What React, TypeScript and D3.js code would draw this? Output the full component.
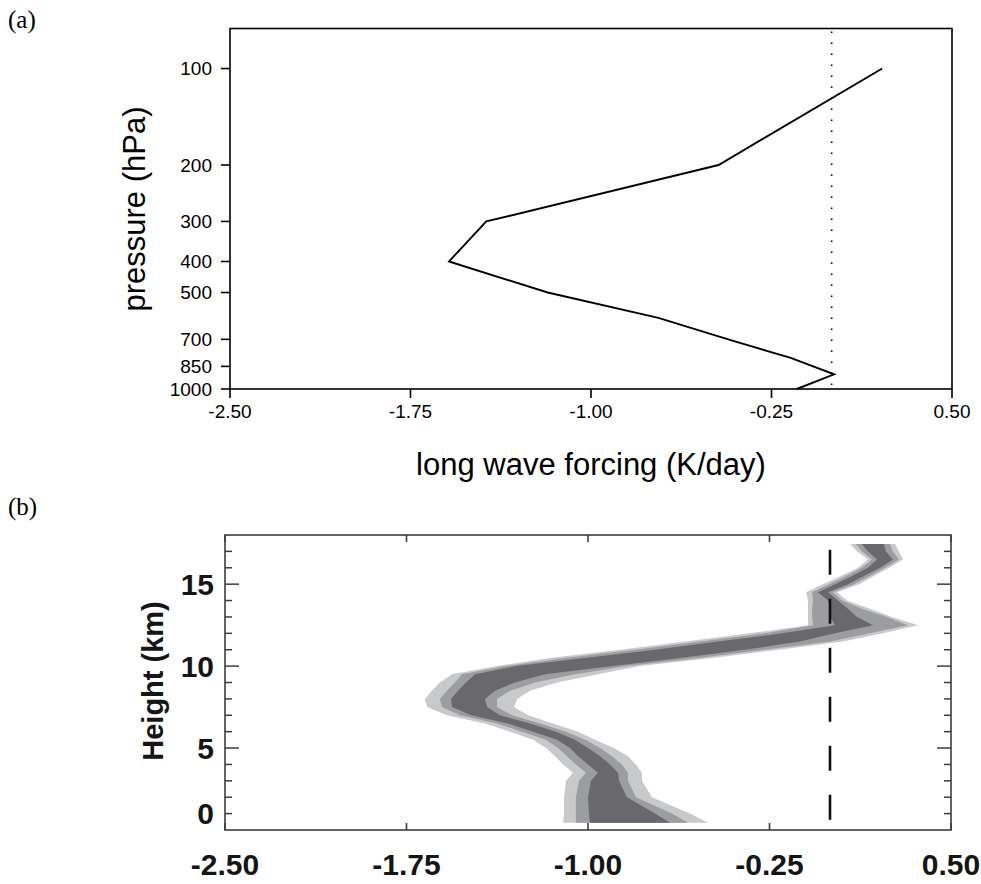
import React from "react";
import * as d3 from "d3";

// ---------- Panel (a) data ----------
const pressureLevels = [100, 200, 300, 400, 500, 600, 700, 800, 900, 1000];
const lwForcing = [0.21, -0.47, -1.435, -1.59, -1.18, -0.72, -0.43, -0.17, 0.01, -0.145];
const pressureTicks = [100, 200, 300, 400, 500, 700, 850, 1000];
const forcingTicks = [-2.5, -1.75, -1.0, -0.25, 0.5];
const forcingTickLabels = ["-2.50", "-1.75", "-1.00", "-0.25", "0.50"];

// ---------- Panel (b) data ----------
const heights = [0.45, 1, 2, 3, 3.5, 4, 4.5, 5, 5.5, 6, 6.5, 7, 7.5, 8, 8.5, 9, 9.5, 10, 10.5, 11, 11.5, 12, 12.5, 13, 13.5, 14, 14.5, 15, 15.5, 16, 16.5, 17, 17.45];
const lightLo = [-1.103, -1.099, -1.099, -1.091, -1.062, -1.103, -1.136, -1.174, -1.227, -1.322, -1.426, -1.583, -1.665, -1.674, -1.645, -1.612, -1.562, -1.376, -1.157, -0.868, -0.599, -0.331, -0.091, -0.091, -0.091, -0.091, -0.099, -0.029, 0.045, 0.116, 0.157, 0.112, 0.083];
const medLo = [-1.05, -1.05, -1.05, -1.037, -1.008, -1.05, -1.087, -1.124, -1.174, -1.273, -1.376, -1.529, -1.603, -1.612, -1.583, -1.55, -1.521, -1.339, -1.095, -0.806, -0.537, -0.269, -0.07, -0.074, -0.074, -0.07, -0.074, -0.004, 0.066, 0.132, 0.174, 0.132, 0.107];
const darkLo = [-0.992, -0.996, -1.0, -0.988, -0.959, -1.0, -1.041, -1.074, -1.128, -1.227, -1.331, -1.483, -1.562, -1.566, -1.537, -1.504, -1.467, -1.298, -1.012, -0.723, -0.463, -0.198, 0.021, 0.0, 0.0, -0.008, -0.05, 0.021, 0.091, 0.157, 0.194, 0.157, 0.132];
const darkHi = [-0.661, -0.723, -0.839, -0.872, -0.876, -0.909, -0.95, -1.0, -1.054, -1.132, -1.24, -1.364, -1.417, -1.426, -1.384, -1.302, -1.178, -0.897, -0.62, -0.351, -0.124, 0.021, 0.178, 0.112, 0.074, 0.033, -0.008, 0.074, 0.14, 0.207, 0.26, 0.231, 0.223];
const medHi = [-0.587, -0.653, -0.802, -0.835, -0.835, -0.86, -0.901, -0.95, -1.012, -1.091, -1.198, -1.314, -1.376, -1.376, -1.322, -1.219, -1.054, -0.839, -0.545, -0.269, 0.0, 0.165, 0.322, 0.236, 0.132, 0.05, 0.012, 0.099, 0.165, 0.227, 0.285, 0.26, 0.248];
const lightHi = [-0.504, -0.579, -0.736, -0.777, -0.777, -0.802, -0.835, -0.893, -0.971, -1.041, -1.145, -1.248, -1.306, -1.293, -1.24, -1.128, -0.959, -0.785, -0.488, -0.211, 0.054, 0.219, 0.364, 0.256, 0.165, 0.07, 0.029, 0.12, 0.182, 0.244, 0.302, 0.285, 0.269];
const heightLabelValues = [0, 5, 10, 15];
const heightLabels = ["0", "5", "10", "15"];
const heightMajor = [5, 10, 15];
const heightMinor = d3.range(1, 18).filter((h) => h % 5 !== 0);
const refLineRange = [0.4, 17.1];

const W = 981;
const H = 884;

export default function App() {
  // Panel (a)
  const xa = d3.scaleLinear().domain([-2.5, 0.5]).range([230, 952]);
  const ya = d3.scaleLog().domain([75, 1000]).range([28.5, 389]);
  const lineA = d3
    .line<number>()
    .x((_, i) => xa(lwForcing[i]))
    .y((p) => ya(p));
  const aTop = ya(75);
  const aBot = ya(1000);

  // Panel (b)
  const xb = d3.scaleLinear().domain([-2.5, 0.5]).range([225, 951]);
  const yb = d3.scaleLinear().domain([0, 18]).range([830, 535]);
  const idx = heights.map((_, i) => i);
  const band = (lo: number[], hi: number[]) =>
    d3
      .area<number>()
      .y((i) => yb(heights[i]))
      .x0((i) => xb(lo[i]))
      .x1((i) => xb(hi[i]))(idx) || "";

  const fontA = "'Liberation Sans', Arial, sans-serif";
  const fontB = "'Liberation Sans Narrow', 'Arial Narrow', 'Liberation Sans', sans-serif";
  const frameB = "#3d3d3d";
  const bL = xb(-2.5);
  const bR = xb(0.5);
  const bT = yb(18);
  const bB = yb(0);

  return (
    <div style={{ position: "absolute", left: 0, top: 0 }}>
      <svg width={W} height={H} viewBox={`0 0 ${W} ${H}`} style={{ display: "block", background: "#fff" }}>
        {/* ===== Panel (a) ===== */}
        <text x={8} y={28} fontFamily="'Liberation Serif', 'Times New Roman', serif" fontSize={25}>
          (a)
        </text>
        <rect x={xa(-2.5)} y={aTop} width={xa(0.5) - xa(-2.5)} height={aBot - aTop} fill="none" stroke="#000" strokeWidth={1.6} />
        {/* dotted zero line */}
        <line x1={xa(0)} x2={xa(0)} y1={aTop + 3} y2={aBot} stroke="#000" strokeWidth={1.6} strokeDasharray="1.6 9.4" />
        {/* profile */}
        <path d={lineA(pressureLevels) || ""} fill="none" stroke="#000" strokeWidth={1.9} strokeLinejoin="miter" />
        {/* y ticks */}
        {pressureTicks.map((p) => (
          <g key={`pa${p}`}>
            <line x1={xa(-2.5) - 9} x2={xa(-2.5)} y1={ya(p)} y2={ya(p)} stroke="#000" strokeWidth={1.6} />
            <text x={xa(-2.5) - 18} y={ya(p)} dy="0.36em" textAnchor="end" fontFamily={fontA} fontSize={19}>
              {p}
            </text>
          </g>
        ))}
        {/* x ticks */}
        {forcingTicks.map((v, i) => (
          <g key={`xa${i}`}>
            <line x1={xa(v)} x2={xa(v)} y1={aBot} y2={aBot + 9} stroke="#000" strokeWidth={1.6} />
            <text x={xa(v)} y={aBot + 29} textAnchor="middle" fontFamily={fontA} fontSize={19}>
              {forcingTickLabels[i]}
            </text>
          </g>
        ))}
        <text x={591} y={475} textAnchor="middle" fontFamily={fontA} fontSize={31}>
          long wave forcing (K/day)
        </text>
        <text transform="translate(145,209) rotate(-90)" textAnchor="middle" fontFamily={fontA} fontSize={31}>
          pressure (hPa)
        </text>

        {/* ===== Panel (b) ===== */}
        <text x={8} y={515} fontFamily="'Liberation Serif', 'Times New Roman', serif" fontSize={25}>
          (b)
        </text>
        <path d={band(lightLo, lightHi)} fill="#c8c9cb" />
        <path d={band(medLo, medHi)} fill="#9c9da0" />
        <path d={band(darkLo, darkHi)} fill="#69696d" />
        <line
          x1={xb(0)}
          x2={xb(0)}
          y1={yb(refLineRange[1])}
          y2={yb(refLineRange[0])}
          stroke="#111"
          strokeWidth={2.6}
          strokeDasharray="25 24"
        />
        <rect x={bL} y={bT} width={bR - bL} height={bB - bT} fill="none" stroke={frameB} strokeWidth={1.6} />
        {/* x ticks (top and bottom, inward) */}
        {forcingTicks.map((v, i) => (
          <g key={`xb${i}`}>
            <line x1={xb(v)} x2={xb(v)} y1={bB} y2={bB - 7} stroke={frameB} strokeWidth={1.6} />
            <line x1={xb(v)} x2={xb(v)} y1={bT} y2={bT + 7} stroke={frameB} strokeWidth={1.6} />
            <text
              x={xb(v)}
              y={875}
              textAnchor="middle"
              fontFamily={fontB}
              fontWeight="bold"
              fontSize={30}
              fill="#151515"
            >
              {forcingTickLabels[i]}
            </text>
          </g>
        ))}
        {/* y ticks both sides */}
        {heightMinor.map((h) => (
          <g key={`mn${h}`}>
            <line x1={bL} x2={bL + 7} y1={yb(h)} y2={yb(h)} stroke={frameB} strokeWidth={1.5} />
            <line x1={bR} x2={bR - 7} y1={yb(h)} y2={yb(h)} stroke={frameB} strokeWidth={1.5} />
          </g>
        ))}
        {heightMajor.map((h) => (
          <g key={`mj${h}`}>
            <line x1={bL} x2={bL + 14} y1={yb(h)} y2={yb(h)} stroke={frameB} strokeWidth={1.5} />
            <line x1={bR} x2={bR - 14} y1={yb(h)} y2={yb(h)} stroke={frameB} strokeWidth={1.5} />
          </g>
        ))}
        {heightLabelValues.map((h, i) => (
          <text
            key={`hl${h}`}
            x={bL - 11}
            y={Math.min(yb(h), yb(0) - 17)}
            dy="0.36em"
            textAnchor="end"
            fontFamily={fontB}
            fontWeight="bold"
            fontSize={30}
            fill="#151515"
          >
            {heightLabels[i]}
          </text>
        ))}
        <text
          transform="translate(163,681) rotate(-90)"
          textAnchor="middle"
          fontFamily={fontB}
          fontWeight="bold"
          fontSize={29}
          fill="#151515"
        >
          Height (km)
        </text>
      </svg>
    </div>
  );
}
